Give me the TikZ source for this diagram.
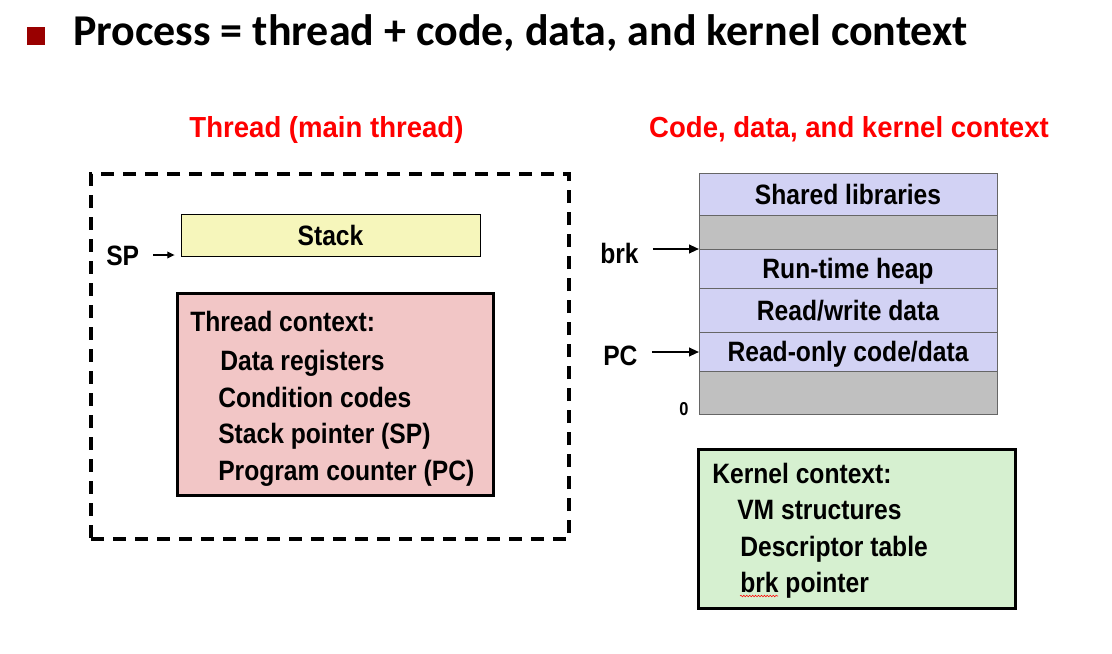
\documentclass[tikz,border=0pt]{standalone}
\usepackage{fontspec}
\usetikzlibrary{arrows.meta,calc,decorations.pathmorphing}

\newfontfamily\bodyfont{Liberation Sans}[FakeStretch=0.88]
\newfontfamily\headfont{Liberation Sans}[FakeStretch=0.95]
\newfontfamily\titlefont{Carlito}

\definecolor{bulletred}{HTML}{990000}
\definecolor{headred}{HTML}{FF0000}
\definecolor{stackyellow}{HTML}{F6F6BB}
\definecolor{ctxpink}{HTML}{F2C6C6}
\definecolor{memlav}{HTML}{D2D2F4}
\definecolor{memgray}{HTML}{C0C0C0}
\definecolor{kerngreen}{HTML}{D6F0D0}

\begin{document}
\begin{tikzpicture}[x=0.75pt,y=-0.75pt,
  body/.style={font=\bodyfont\bfseries\fontsize{21}{25}\selectfont, inner sep=0pt},
  capcentred/.style={text height=15pt, text depth=0pt},
  lbl/.style={body, anchor=base west},
  head/.style={font=\headfont\bfseries\fontsize{21.75}{26}\selectfont, text=headred, inner sep=0pt, anchor=base},
  memrow/.style={body, capcentred, draw=black!60, line width=0.6pt, fill=memlav, minimum width=223.5pt, anchor=north, outer sep=0pt},
  ctxbox/.style={draw, line width=2.25pt},
  ptr/.style={-{Triangle[length=7.5pt,width=6.5pt]}, line width=1.5pt},
  smallptr/.style={-{Triangle[length=5.5pt,width=5pt]}, line width=1pt},
  frame/.style={draw, line width=2.3pt, dash pattern=on 10pt off 6.5pt}
]
\useasboundingbox (0,0) rectangle (1112,653);

% title line
\node[fill=bulletred, minimum size=13.5pt, inner sep=0pt] (bullet) at (36,36) {};
\node[font=\titlefont\bfseries\fontsize{33}{38}\selectfont, anchor=base west, inner sep=0pt] (title) at (73,45) {Process = thread + code, data, and kernel context};

% column headings
\node[head] (th) at (326.5,137) {Thread (main thread)};
\node[head] (ch) at (849,137) {Code, data, and kernel context};

% thread: dashed frame, stack, context
\node[frame, minimum width=358.5pt, minimum height=273.75pt] (tframe) at (330,356.5) {};
\node[body, capcentred, draw, line width=0.6pt, fill=stackyellow, minimum width=224.25pt, minimum height=31.5pt] (stack) at (330.5,235) {Stack};
\node[body, capcentred, anchor=west] (sp) at (106,255) {SP};
\draw[smallptr] ($(sp.east)+(10.5pt,0)$) -- ($(sp.east -| stack.west)+(-4.5pt,0)$);

\node[ctxbox, fill=ctxpink, minimum width=237pt, minimum height=151.5pt] (tctx) at (335,394) {};
\node[lbl] (t0) at (190,331) {Thread context:};
\node[lbl] (t1) at (220,370) {Data registers};
\node[lbl] (t2) at (218,407) {Condition codes};
\node[lbl] (t3) at (218,443) {Stack pointer (SP)};
\node[lbl] (t4) at (218,480) {Program counter (PC)};

% address space column
\node[memrow, minimum height=31.5pt] (shl) at (848,173) {Shared libraries};
\node[memrow, fill=memgray, minimum height=25.5pt] (gap1) at (shl.south) {};
\node[memrow, minimum height=29.25pt] (heap) at (gap1.south) {Run-time heap};
\node[memrow, minimum height=33pt] (rw) at (heap.south) {Read/write data};
\node[memrow, minimum height=29.25pt] (ro) at (rw.south) {Read-only code/data};
\node[memrow, fill=memgray, minimum height=32.25pt] (gap2) at (ro.south) {};

\node[body, anchor=west] (brk) at (600,253) {brk};
\draw[ptr] ($(brk.east |- heap.north west)+(10.5pt,0)$) -- (heap.north west);
\node[body, capcentred, anchor=west] (pc) at (603,355) {PC};
\draw[ptr] ($(pc.east |- ro.west)+(10.5pt,-0.375pt)$) -- ($(ro.west)+(0,-0.375pt)$);
\node[font=\bodyfont\bfseries\fontsize{14}{16}\selectfont, inner sep=0pt] (zero) at (684,409) {0};

% kernel context
\node[ctxbox, fill=kerngreen, minimum width=237.75pt, minimum height=119.25pt] (kctx) at (856.5,528.5) {};
\node[lbl] (k0) at (712,483) {Kernel context:};
\node[lbl] (k1) at (737,519) {VM structures};
\node[lbl] (k2) at (740,556) {Descriptor table};
\node[lbl] (k3) at (740,592) {brk pointer};
\draw[red, line width=0.4pt, decorate, decoration={snake, amplitude=0.6pt, segment length=2.2pt}]
  ($(k3.base west)+(0,-3pt)$) -- ++(28.5pt,0);
\end{tikzpicture}
\end{document}
